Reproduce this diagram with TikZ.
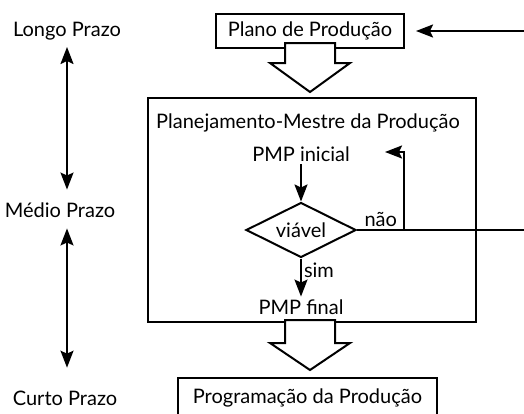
\documentclass[tikz,border=0pt]{standalone}
\usepackage{fontspec}
\setmainfont{Lato}
\usepackage{tikz}
\usetikzlibrary{arrows.meta,shapes.geometric}
\newcommand{\blockarrow}[4]{%
  \draw[line width=1pt,fill=white] (#1-25,#2) -- (#1+25,#2) -- (#1+25,#3) -- (#1+40,#3)
    -- (#1,#4) -- (#1-40,#3) -- (#1-25,#3) -- cycle;}

\begin{document}
\begin{tikzpicture}[x=0.5pt,y=-0.5pt,line width=1pt,
                    >={Stealth[length=8.5pt,width=6.5pt,inset=1.5pt]},
                    every node/.style={font=\fontsize{10}{12}\selectfont,inner sep=1pt},
                    box/.style={draw,line width=1pt,inner sep=0pt}]
  \useasboundingbox (0,0) rectangle (524,413);
  \clip (0,0) rectangle (524,413);
  % horizon labels
  \node (longo) at (67,31) {Longo Prazo};
  \node (medio) at (60,210) {Médio Prazo};
  \node (curto) at (65,398) {Curto Prazo};
  % boxes
  \node[box,minimum width=94pt,minimum height=17pt] (plano) at (310,31) {Plano de Produção};
  \node[box,minimum width=164pt,minimum height=112pt] (pmp) at (312,210) {};
  \node (titulo) at (308,123) {Planejamento-Mestre da Produção};
  \node (ini) at (301,154) {PMP inicial};
  \node[box,diamond,aspect=2,minimum width=55pt,minimum height=27.5pt] (viavel) at (301,230) {viável};
  \node (fim) at (301,307) {PMP final};
  \node[box,minimum width=129.5pt,minimum height=20pt] (prog) at (307.5,398) {Programação da Produção};
  % return path
  \coordinate (ret) at (404,230);
  \coordinate (retend) at (385,152);
  \coordinate (dir1) at (540,230);
  \coordinate (dir2) at (540,31);
  % block arrows
  \blockarrow{310}{43}{63}{92}
  \blockarrow{310}{320}{343}{370}
  % edges
  \draw[<->,shorten <=2pt,shorten >=5pt] (67,0 |- longo.south) -- (67,0 |- medio.north);
  \draw[<->,shorten <=4pt,shorten >=10pt] (67,0 |- medio.south) -- (67,0 |- curto.north);
  \draw[->] (ini.south) -- (viavel.north);
  \draw[->] (viavel.south) -- node[right,pos=0.3] {sim} (fim.north);
  \draw (viavel.east) -- node[above,pos=0.13] {não} (dir1) -- (dir2);
  \draw[->] (ret) |- (retend);
  \draw[->,shorten >=5.5pt] (dir2) -- (plano.east);
\end{tikzpicture}
\end{document}
